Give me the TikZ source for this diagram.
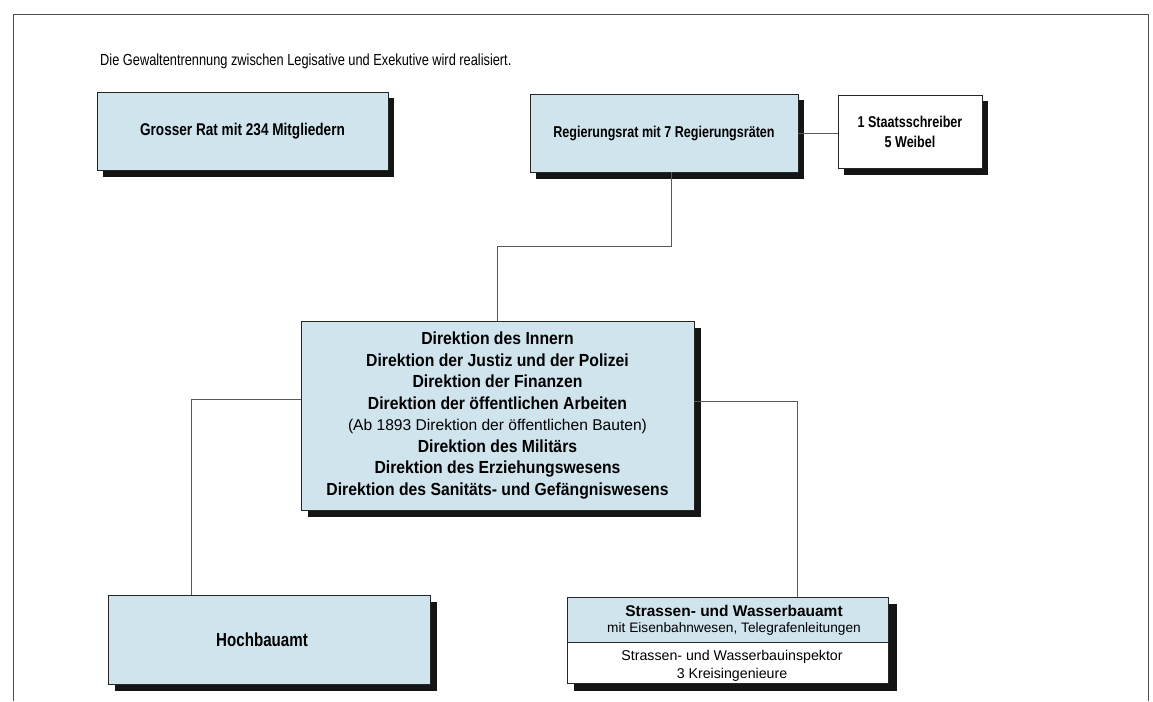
\documentclass[tikz,border=0pt]{standalone}
\usepackage{fontspec}
\setmainfont{Liberation Sans}
\newfontfamily\cnd{Liberation Sans}[FakeStretch=0.80]
\newfontfamily\cndb{Liberation Sans}[FakeStretch=0.90]
\usetikzlibrary{calc}
\definecolor{boxblue}{RGB}{208,228,238}
\definecolor{linegray}{RGB}{90,90,90}
\tikzset{
  orgbox/.style={draw=black!85, line width=0.9pt, fill=boxblue, inner sep=0pt, align=center},
  whitebox/.style={orgbox, fill=white},
  shadowbox/.style={fill=black!92, draw=none},
  conn/.style={draw=linegray, line width=0.7pt},
  frameline/.style={draw=black!70, line width=0.8pt},
  boxtext/.style={inner sep=0pt, align=center},
}
\begin{document}
\begin{tikzpicture}[x=1pt,y=-1pt]
\useasboundingbox[fill=white] (0,0) rectangle (1153,701);
% frame
\draw[frameline] (13,701) -- (13,14) -- (1148,14) -- (1148,701);
% title
\node[anchor=west, inner sep=0pt, font=\cnd\fontsize{16}{18}\selectfont] (title) at (100,61) {Die Gewaltentrennung zwischen Legisative und Exekutive wird realisiert.};
% shadows
\fill[shadowbox] (103,98) rectangle (394,177);
\fill[shadowbox] (536,100) rectangle (804,179);
\fill[shadowbox] (844,101) rectangle (988,175);
\fill[shadowbox] (308,328) rectangle (701,517);
\fill[shadowbox] (115,602) rectangle (437,691);
\fill[shadowbox] (574,604) rectangle (897,691);
% boxes
\node[orgbox, minimum width=291, minimum height=78, font=\cnd\bfseries\fontsize{17}{20}\selectfont] (gr) at (242.5,131) {Grosser Rat mit 234 Mitgliedern};
\node[orgbox, minimum width=268, minimum height=78, font=\cnd\bfseries\fontsize{15.7}{20}\selectfont] (rr) at (664,133) {Regierungsrat mit 7 Regierungsräten};
\node[whitebox, minimum width=144, minimum height=73, font=\cnd\bfseries\fontsize{15.7}{20}\selectfont] (ss) at (910,131.5) {1 Staatsschreiber\\5 Weibel};
\node[orgbox, minimum width=393, minimum height=189, font=\cndb\bfseries\fontsize{17.5}{21.5}\selectfont] (dir) at (497.5,415.5) {Direktion des Innern\\Direktion der Justiz und der Polizei\\Direktion der Finanzen\\Direktion der öffentlichen Arbeiten\\{\normalfont\fontsize{15.6}{21.5}\selectfont (Ab 1893 Direktion der öffentlichen Bauten)}\\Direktion des Militärs\\Direktion des Erziehungswesens\\Direktion des Sanitäts- und Gefängniswesens};
\node[orgbox, minimum width=322, minimum height=89] (hb) at (269,639.5) {};
\node[boxtext, font=\cnd\bfseries\fontsize{18.9}{20}\selectfont] (hbt) at (262,640) {Hochbauamt};
\node[orgbox, minimum width=321, minimum height=45] (sw) at (728,619.5) {};
\node[whitebox, minimum width=321, minimum height=41, anchor=north] (swi) at (sw.south) {};
\node[boxtext, font=\fontsize{13.7}{16}\selectfont] (swt) at (734,620.5) {{\bfseries\fontsize{15.5}{16}\selectfont Strassen- und Wasserbauamt}\\mit Eisenbahnwesen, Telegrafenleitungen};
\node[boxtext, font=\fontsize{14.2}{18}\selectfont] (swit) at (732,666) {Strassen- und Wasserbauinspektor\\3 Kreisingenieure};
% connectors
\coordinate (c1) at (671,246);
\coordinate (cl) at (191,399);
\coordinate (cr) at (797,401);
\draw[conn] (rr.east) -- (rr.east -| ss.west);
\draw[conn] (rr.south -| c1) -- (c1) -| (dir.north);
\draw[conn] (dir.west |- cl) -- (cl) -- (cl |- hb.north);
\draw[conn] (dir.east |- cr) -- (cr) -- (cr |- sw.north);
\end{tikzpicture}
\end{document}
